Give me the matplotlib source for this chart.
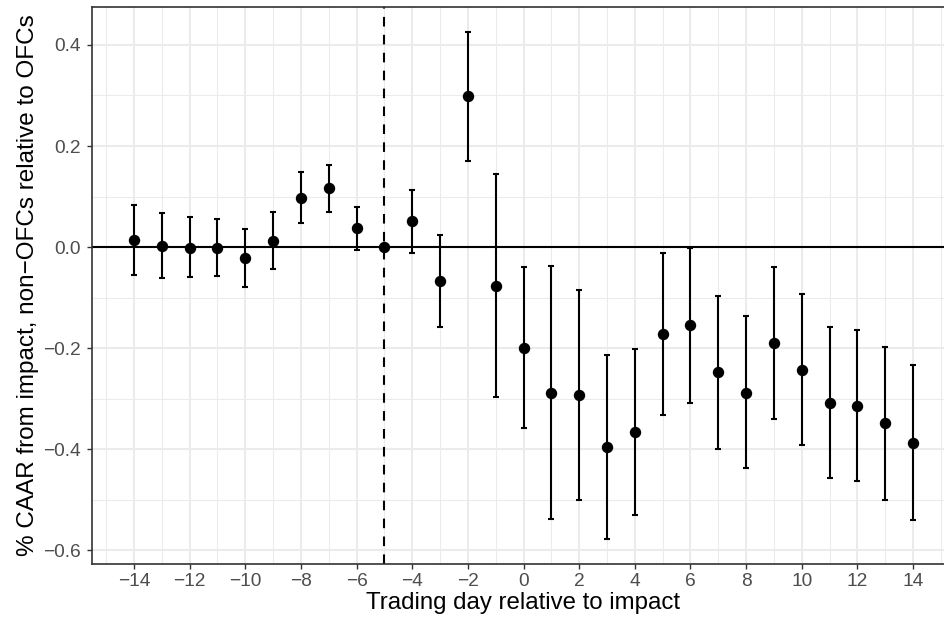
import matplotlib
matplotlib.use("Agg")
import matplotlib.pyplot as plt
import numpy as np

plt.rcParams['font.family'] = ['Liberation Sans', 'DejaVu Sans']

days = list(range(-14, 15))
estimate = [0.015, 0.002, -0.001, -0.001, -0.021, 0.013, 0.098, 0.116, 0.038, 0.0,
            0.051, -0.067, 0.298, -0.077, -0.199, -0.288, -0.292, -0.396, -0.366,
            -0.172, -0.155, -0.248, -0.288, -0.189, -0.243, -0.308, -0.315, -0.349, -0.387]
upper = [0.084, 0.067, 0.059, 0.055, 0.036, 0.069, 0.149, 0.162, 0.080, 0.0,
         0.112, 0.023, 0.426, 0.145, -0.039, -0.038, -0.084, -0.214, -0.201,
         -0.011, -0.001, -0.096, -0.137, -0.039, -0.093, -0.159, -0.165, -0.198, -0.234]
lower = [-0.055, -0.061, -0.059, -0.058, -0.078, -0.043, 0.047, 0.070, -0.005, 0.0,
         -0.011, -0.158, 0.171, -0.297, -0.357, -0.537, -0.500, -0.577, -0.530,
         -0.332, -0.308, -0.399, -0.438, -0.340, -0.391, -0.457, -0.463, -0.500, -0.539]
xticks = list(range(-14, 15, 2))
yticks = [-0.6, -0.4, -0.2, 0.0, 0.2, 0.4]
xlabel = "Trading day relative to impact"
ylabel = "% CAAR from impact, non\u2212OFCs relative to OFCs"
event_day = -5

W, H = 944, 628
fig = plt.figure(figsize=(W / 100, H / 100), dpi=100)
left, right, top, bottom = 92, 955, 6.5, 564
ax = fig.add_axes([left / W, 1 - bottom / H, (right - left) / W, (bottom - top) / H])

x = np.array(days)
y = np.array(estimate)
lo = np.array(lower)
hi = np.array(upper)

ax.axhline(0, color='black', lw=1.5, zorder=2)
ax.axvline(event_day, color='black', lw=1.5, ls=(0, (4.6, 4.0)), zorder=2)
ax.errorbar(x, y, yerr=[y - lo, hi - y], fmt='o', color='black', ms=7.2, ecolor='black',
            elinewidth=1.5, capsize=2.2, capthick=1.5, zorder=3)

ax.set_xlim(-15.51, 15.51)
ax.set_ylim(-0.627, 0.476)
ax.set_xticks(xticks)
ax.set_xticklabels([str(t).replace('-', '\u2212') for t in xticks])
ax.set_yticks(yticks)
ax.set_yticklabels([f"{t:.1f}".replace('-', '\u2212') for t in yticks])
ax.set_xticks(np.arange(-15, 16, 2), minor=True)
ax.set_yticks([-0.5, -0.3, -0.1, 0.1, 0.3], minor=True)

ax.grid(which='major', color='#EBEBEB', lw=1.5, zorder=0)
ax.grid(which='minor', color='#EBEBEB', lw=0.75, zorder=0)
ax.set_axisbelow(True)

ax.tick_params(which='major', length=3.6, width=1, color='#333333', labelsize=13.8,
               labelcolor='#4D4D4D')
ax.tick_params(axis='x', which='major', pad=3.0)
ax.tick_params(axis='y', which='major', pad=4.3)
ax.tick_params(which='minor', length=0)
for s in ax.spines.values():
    s.set_color('#333333')
    s.set_linewidth(1.2)

ax.set_xlabel(xlabel, fontsize=17.25, labelpad=1.5)
ax.set_ylabel(ylabel, fontsize=17.5, labelpad=3)

fig.savefig("out.png", dpi=100)
